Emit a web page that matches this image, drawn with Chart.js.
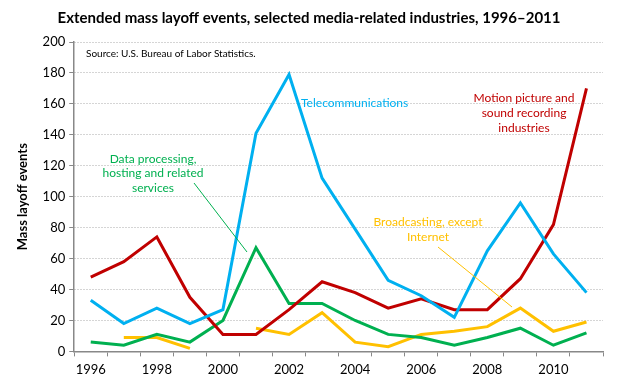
<!DOCTYPE html>
<html>
<head>
<meta charset="utf-8">
<script src="https://cdn.jsdelivr.net/npm/chart.js@4"></script>
<style>
  html, body { margin: 0; padding: 0; background: #fff; }
  #grafico { display: block; }
</style>
</head>
<body>
<canvas id="grafico" width="620" height="390"></canvas>
<script>
const anos = ['1996','1997','1998','1999','2000','2001','2002','2003','2004','2005','2006','2007','2008','2009','2010','2011']
const telecom = [33, 18, 28, 18, 27, 141, 179, 112, 79, 46, 36, 22, 65, 96, 63, 38]
const cinema = [48, 58, 74, 35, 11, 11, 27, 45, 38, 28, 34, 27, 27, 47, 82, 170]
const dados = [6, 4, 11, 6, 20, 67, 31, 31, 20, 11, 9, 4, 9, 15, 4, 12]
const radio = [null, 9, 9, 2, null, 15, 11, 25, 6, 3, 11, 13, 16, 28, 13, 19]
const yMin = 0
const yMax = 200
const yPasso = 20

const FONTE = 'Lato, "Open Sans", sans-serif'

// textos soltos dentro do gráfico
const notas = {
    id: 'notas',
    afterDatasetsDraw(chart) {
        const ctx = chart.ctx
        ctx.save()
        ctx.textBaseline = 'middle'

        // linhas de chamada
        ctx.lineWidth = 1
        ctx.strokeStyle = '#00B050'
        ctx.beginPath()
        ctx.moveTo(194, 183)
        ctx.lineTo(247, 252)
        ctx.stroke()

        ctx.strokeStyle = '#FFC000'
        ctx.beginPath()
        ctx.moveTo(438, 247)
        ctx.lineTo(512, 307)
        ctx.stroke()

        ctx.font = '12px ' + FONTE
        ctx.textAlign = 'left'
        ctx.fillStyle = '#00B0F0'
        ctx.fillText('Telecommunications', 301, 103)

        ctx.textAlign = 'center'
        ctx.fillStyle = '#C00000'
        ctx.fillText('Motion picture and', 524, 98)
        ctx.fillText('sound recording', 524, 113)
        ctx.fillText('industries', 524, 128)

        ctx.fillStyle = '#00B050'
        ctx.fillText('Data processing,', 153, 159)
        ctx.fillText('hosting and related', 153, 173)
        ctx.fillText('services', 153, 188)

        ctx.fillStyle = '#FFC000'
        ctx.fillText('Broadcasting, except', 428, 222)
        ctx.fillText('Internet', 428, 237)

        ctx.textAlign = 'left'
        ctx.fillStyle = '#000'
        ctx.font = '10px ' + FONTE
        ctx.fillText('Source: U.S. Bureau of Labor Statistics.', 86, 54)

        ctx.textAlign = 'center'
        ctx.font = 'bold 15px ' + FONTE
        ctx.fillText('Extended mass layoff events, selected media-related industries, 1996\u20132011', 309, 18)
        ctx.restore()
    }
}

function serie(nome, valores, cor) {
    return {
        label: nome,
        data: valores,
        borderColor: cor,
        backgroundColor: cor,
        borderWidth: 3,
        pointRadius: 0,
        tension: 0,
        spanGaps: false
    }
}

const ctx = document.getElementById('grafico').getContext('2d')

new Chart(ctx, {
    type: 'line',
    data: {
        labels: anos,
        datasets: [
            serie('Telecommunications', telecom, '#00B0F0'),
            serie('Motion picture and sound recording industries', cinema, '#C00000'),
            serie('Data processing, hosting and related services', dados, '#00B050'),
            serie('Broadcasting, except Internet', radio, '#FFC000')
        ]
    },
    options: {
        responsive: false,
        animation: false,
        layout: {
            padding: { top: 42, right: 17, left: 15, bottom: 6 }
        },
        plugins: {
            legend: { display: false },
            tooltip: { enabled: false },
            title: { display: false }
        },
        scales: {
            x: {
                offset: true,
                grid: {
                    offset: true,
                    drawOnChartArea: false,
                    drawTicks: true,
                    tickLength: 5,
                    color: '#888'
                },
                border: { color: '#888', width: 1.5 },
                ticks: {
                    autoSkip: false,
                    maxRotation: 0,
                    color: '#000',
                    font: { family: FONTE, size: 13 },
                    padding: 6,
                    callback: (v, i) => i % 2 === 0 ? anos[i] : ''
                }
            },
            y: {
                min: yMin,
                max: yMax,
                ticks: {
                    stepSize: yPasso,
                    color: '#000',
                    font: { family: FONTE, size: 13 },
                    padding: 4
                },
                grid: {
                    color: '#aaa',
                    tickColor: '#888',
                    tickLength: 5,
                    drawTicks: true,
                    tickBorderDash: []
                },
                border: { color: '#888', width: 1.5, dash: [1, 2] },
                title: {
                    display: true,
                    text: 'Mass layoff events',
                    color: '#000',
                    font: { family: FONTE, size: 13, weight: 'bold' },
                    padding: { top: 0, bottom: 8 }
                }
            }
        }
    },
    plugins: [notas]
})
</script>
</body>
</html>
